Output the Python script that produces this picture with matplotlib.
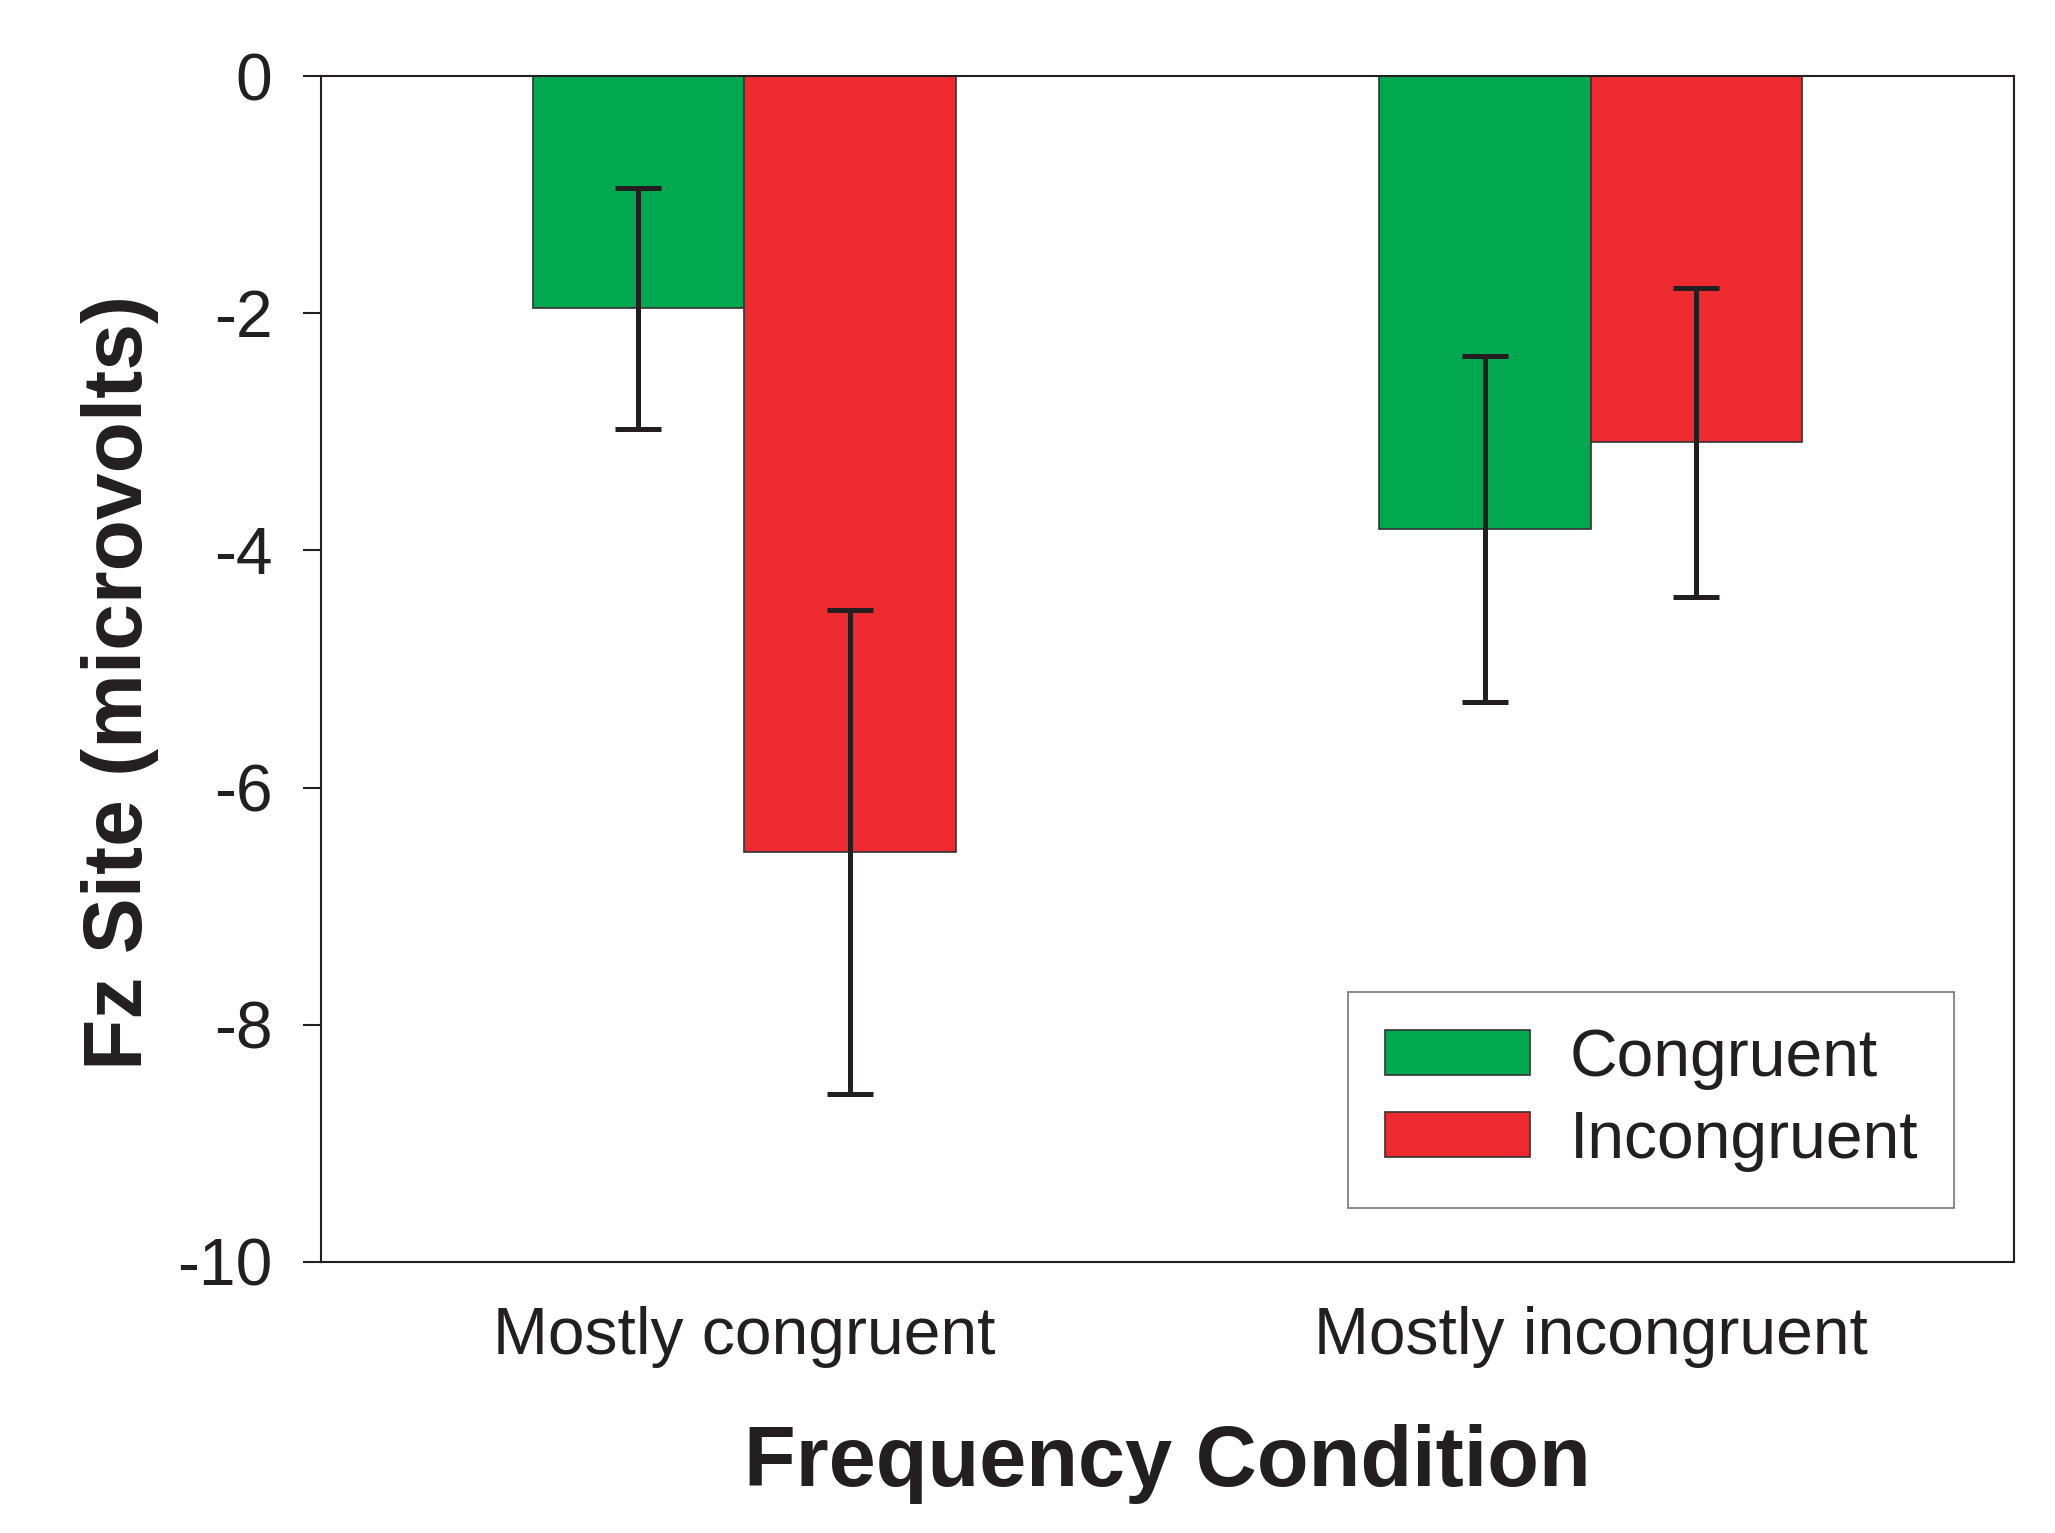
import matplotlib
matplotlib.use("Agg")
import matplotlib.pyplot as plt
import numpy as np

categories = ["Mostly congruent", "Mostly incongruent"]
series_names = ["Congruent", "Incongruent"]
congruent = [-1.96, -3.82]
incongruent = [-6.54, -3.09]
congruent_err = [1.02, 1.46]
incongruent_err = [2.04, 1.30]
yticks = [0, -2, -4, -6, -8, -10]

plt.rcParams['font.family'] = ['Liberation Sans', 'DejaVu Sans']
plt.rcParams['axes.unicode_minus'] = False

txt = '#231F20'
green = '#00A84F'
red = '#EC2A2F'

fig = plt.figure(figsize=(20.55, 15.33), dpi=100)
ax = fig.add_axes([0.1562, 0.1768, 0.8238, 0.7736])

x = np.arange(len(categories))
w = 0.25
ekw = dict(ecolor=txt, elinewidth=3.6, capsize=16.5, capthick=3.6)
ax.bar(x - w/2, congruent, w, color=green, edgecolor='#333333', linewidth=1.2,
       yerr=congruent_err, error_kw=ekw, label=series_names[0], zorder=2)
ax.bar(x + w/2, incongruent, w, color=red, edgecolor='#333333', linewidth=1.2,
       yerr=incongruent_err, error_kw=ekw, label=series_names[1], zorder=2)

ax.set_xlim(-0.5, 1.5)
ax.set_ylim(-10, 0)
ax.set_yticks(yticks)
ax.set_yticklabels([str(t) for t in yticks])
ax.set_xticks(x)
ax.set_xticklabels(categories)

for s in ax.spines.values():
    s.set_linewidth(1.5)
    s.set_color(txt)

ax.tick_params(axis='y', direction='out', length=13, width=1.5, color=txt,
               labelsize=47.5, labelcolor=txt, pad=22)
ax.tick_params(axis='x', length=0, labelsize=47.5, labelcolor=txt, pad=32)

ax.set_xlabel("Frequency Condition", fontsize=61, fontweight='bold', color=txt)
ax.xaxis.label.set_va('center')
ax.xaxis.set_label_coords(0.5, -0.170)
ax.set_ylabel("Fz Site (microvolts)", fontsize=60.5, fontweight='bold', color=txt)
ax.yaxis.label.set_va('center')
ax.yaxis.set_label_coords(-0.119, 0.489)

leg = ax.legend(loc='lower right', bbox_to_anchor=(0.9648, 0.0455),
                fontsize=47.5, frameon=True, fancybox=False, edgecolor='#555555',
                handlelength=2.2, handleheight=0.67, handletextpad=0.6,
                labelspacing=0.3, borderpad=0.55, borderaxespad=0)
leg.get_frame().set_linewidth(1.2)
for t in leg.get_texts():
    t.set_color(txt)

fig.savefig("out.png", dpi=100, facecolor='white')
